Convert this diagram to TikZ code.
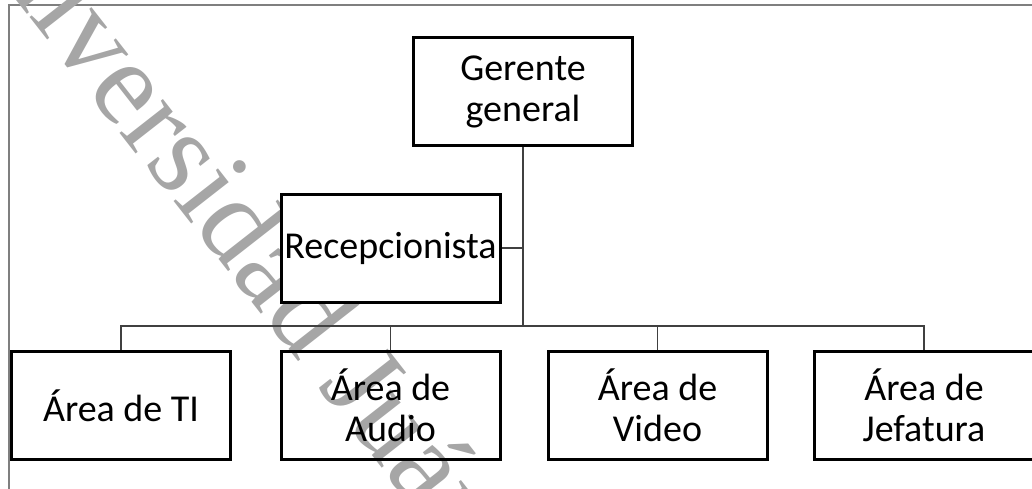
\documentclass[tikz,border=0pt]{standalone}
\usepackage{fontspec}
\setmainfont{Carlito}
\newfontfamily\wmfont{Liberation Serif}
\definecolor{wmgray}{HTML}{A6A6A6}
\definecolor{conngray}{HTML}{404040}
\definecolor{framegray}{HTML}{7F7F7F}
\tikzset{
  orgbox/.style={draw=black, line width=3pt, minimum width=219pt, minimum height=108pt,
    inner xsep=0pt, inner ysep=2pt, align=center, font=\fontsize{38}{41}\selectfont},
  conn/.style={draw=conngray, line width=1.6pt},
  framel/.style={draw=framegray, line width=1.2pt},
}
\begin{document}
\begin{tikzpicture}[x=1pt,y=-1pt]
\useasboundingbox (0,0) rectangle (1032,489);
\clip (0,0) rectangle (1032,489);
% frame
\draw[framel] (9,489) -- (9,5) -- (1040,5);
% watermark
\node[anchor=base west, rotate=-52, text=wmgray, inner sep=0pt,
  font=\wmfont\fontsize{120}{120}\selectfont] (wm) at (-62,-100)
  {Universidad Juárez Autónoma de Tabasco};
% boxes
\node[orgbox] (gg) at (523,91.5) {Gerente\\general};
\node[orgbox, fill=white] (rec) at (390.5,248) {Recepcionista};
\node[orgbox] (ti) at (121,405.5) {Área de TI};
\node[orgbox] (au) at (390.5,405.5) {Área de\\Audio};
\node[orgbox] (vi) at (657.5,405.5) {Área de\\Video};
\node[orgbox] (jef) at (924,405.5) {Área de\\Jefatura};
\coordinate (bus) at (523,326);
% connectors
\draw[conn] (gg.south) -- (bus);
\draw[conn] (rec.east) -- (rec.east -| gg.south);
\draw[conn] (ti.north) |- (bus) -| (jef.north);
\draw[conn] (au.north) -- (au.north |- bus);
\draw[conn] (vi.north) -- (vi.north |- bus);
\end{tikzpicture}
\end{document}
